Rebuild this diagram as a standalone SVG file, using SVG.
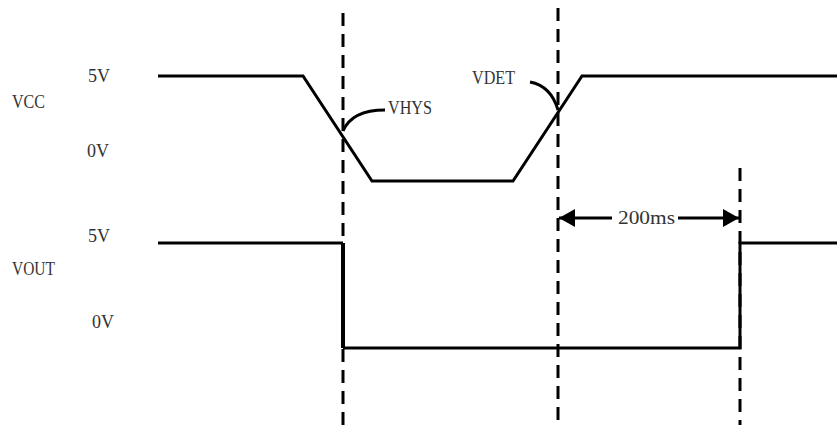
<svg xmlns="http://www.w3.org/2000/svg" width="837" height="425" viewBox="0 0 837 425">
<defs>
<style>
.t{font-family:"Liberation Serif","Times New Roman",serif;font-size:19px;fill:#333;}
.w{fill:none;stroke:#000;stroke-width:3;stroke-linejoin:miter;}
.d{fill:none;stroke:#000;stroke-width:3;stroke-dasharray:13 8;}
.l{fill:none;stroke:#000;stroke-width:3;}
</style>
<marker id="ah" viewBox="0 0 10 10" refX="10" refY="5" markerWidth="16" markerHeight="18" markerUnits="userSpaceOnUse" orient="auto" preserveAspectRatio="none">
<path d="M0,0 L10,5 L0,10 Z" fill="#000"/>
</marker>
</defs>
<rect width="837" height="425" fill="#fff"/>
<g id="labels">
<text class="t" x="88" y="82" textLength="22" lengthAdjust="spacingAndGlyphs">5V</text>
<text class="t" x="12" y="108" textLength="33" lengthAdjust="spacingAndGlyphs">VCC</text>
<text class="t" x="87" y="157" textLength="22" lengthAdjust="spacingAndGlyphs">0V</text>
<text class="t" x="88" y="242" textLength="22" lengthAdjust="spacingAndGlyphs">5V</text>
<text class="t" x="12" y="275" textLength="43" lengthAdjust="spacingAndGlyphs">VOUT</text>
<text class="t" x="92" y="328" textLength="22" lengthAdjust="spacingAndGlyphs">0V</text>
</g>
<g id="vcc">
<polyline class="w" points="158,76 303,76 372,181 513,181 582,76 837,76"/>
</g>
<g id="vout">
<polyline class="w" points="158,243 343,243"/>
<polyline class="w" style="stroke-width:4" points="343,243 343,348"/>
<polyline class="w" points="343,348 740,348 740,243 837,243"/>
</g>
<g id="connectors">
<line class="d" x1="343" y1="13" x2="343" y2="425"/>
<line class="d" x1="558" y1="8" x2="558" y2="425"/>
<line class="d" x1="740" y1="168" x2="740" y2="425"/>
<line class="l" x1="612" y1="218" x2="559" y2="218" marker-end="url(#ah)"/>
<line class="l" x1="678" y1="218" x2="739" y2="218" marker-end="url(#ah)"/>
<path class="l" d="M343,131 Q352,110 385,110"/>
<path class="l" d="M530,82 Q551,86 558,110"/>
</g>
<g id="annotations">
<text class="t" x="388" y="114" textLength="44" lengthAdjust="spacingAndGlyphs">VHYS</text>
<text class="t" x="472" y="84" textLength="43" lengthAdjust="spacingAndGlyphs">VDET</text>
<text class="t" x="618" y="224" textLength="57" lengthAdjust="spacingAndGlyphs">200ms</text>
</g>
</svg>
